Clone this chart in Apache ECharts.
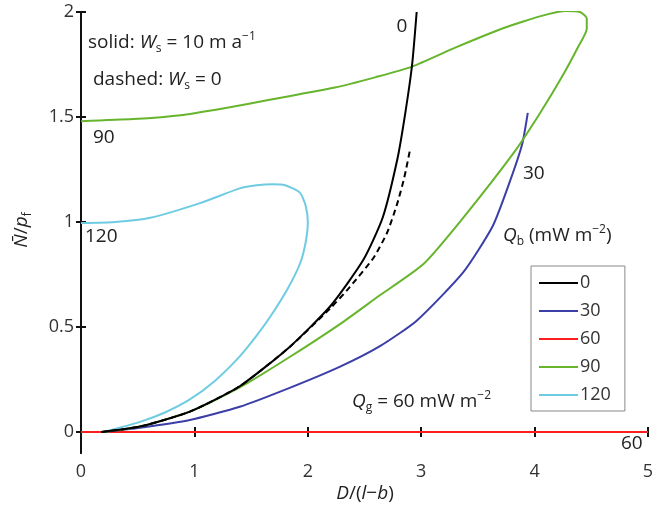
<!DOCTYPE html>
<html><head><meta charset="utf-8">
<script src="https://cdn.jsdelivr.net/npm/echarts@6/dist/echarts.min.js"></script>
<style>html,body{margin:0;padding:0;background:#fff}#c{width:670px;height:510px}</style>
</head><body><div id="c"></div>
<script>
var FONT = "'Open Sans', 'DejaVu Sans', sans-serif";
var yTicks = [0, 0.5, 1, 1.5, 2];
var legendNames = ['0', '30', '60', '90', '120'];
var colors = ['#000000', '#3b3ea6', '#ff1e1e', '#66b52c', '#6ecce2'];

var q0Solid = [[0.18,0],[0.52,0.026],[0.96,0.097],[1.40,0.218],[1.84,0.405],[2.2,0.60],[2.49,0.82],[2.66,1.02],[2.79,1.30],[2.86,1.52],[2.92,1.75],[2.96,2.0]];
var q0Dashed = [[0.18,0],[0.52,0.026],[0.96,0.097],[1.40,0.218],[1.84,0.405],[2.2,0.59],[2.37,0.69],[2.58,0.83],[2.7,0.95],[2.79,1.09],[2.85,1.21],[2.9,1.34]];
var q30 = [[0.2,0],[0.52,0.02],[0.96,0.057],[1.40,0.12],[1.84,0.21],[2.28,0.31],[2.64,0.41],[2.96,0.53],[3.37,0.76],[3.63,0.98],[3.78,1.19],[3.89,1.37],[3.94,1.52]];
var q60 = [[0,0],[5,0]];
var q90 = [[0.2,0],[0.52,0.026],[0.96,0.097],[1.40,0.212],[1.84,0.357],[2.3,0.52],[2.62,0.645],[3.02,0.80],[3.37,1.02],[3.83,1.34],[4.05,1.52],[4.24,1.69],[4.38,1.83],[4.46,1.92],[4.46,1.97],[4.4,2.0],[4.27,2.005],[4.12,1.99],[3.9,1.955],[3.71,1.92],[3.3,1.83],[2.92,1.74],[2.6,1.69],[2.24,1.64],[1.64,1.58],[1.3,1.545],[0.9,1.51],[0.46,1.49],[0,1.48]];
var q120 = [[0.2,0],[0.52,0.048],[0.74,0.093],[0.96,0.155],[1.18,0.243],[1.40,0.36],[1.55,0.46],[1.67,0.55],[1.82,0.68],[1.93,0.80],[1.98,0.90],[2.0,1.0],[1.98,1.08],[1.93,1.14],[1.8,1.175],[1.69,1.18],[1.55,1.175],[1.4,1.16],[1.05,1.09],[0.61,1.02],[0.3,1.0],[0,0.995]];

var chart = echarts.init(document.getElementById('c'), null, {renderer:'canvas'});
function ln(name, data, color, dashed) {
  return {type:'line', name:name, data:data, symbol:'none', smooth:0.2, clip:true,
    lineStyle:{color:color, width:2, type: dashed ? [6,4] : 'solid'}, itemStyle:{color:color},
    emphasis:{disabled:true}, z: dashed ? 3 : 2};
}
var axisLineS = {show:true, lineStyle:{color:'#111', width:2}};
var tickS = {show:true, inside:true, length:5, lineStyle:{color:'#111', width:2}};
var n = {fontSize:19, fontFamily:FONT, color:'#222', lineHeight:24};
var it = {fontSize:19, fontFamily:FONT, color:'#222', fontStyle:'italic', lineHeight:24};
var sub = {fontSize:12, fontFamily:FONT, color:'#222', verticalAlign:'bottom', lineHeight:12};
var sup = {fontSize:12, fontFamily:FONT, color:'#222', verticalAlign:'top', lineHeight:12};
var rich = {n:n, i:it, s:sub, p:sup};
function txt(x, y, t, align, rot) {
  return {type:'text', x:x, y:y, rotation: rot || 0, z:50,
    style:{text:t, rich:rich, font:'19px ' + FONT, fill:'#222', align: align || 'left', verticalAlign:'middle'}};
}
var option = {
  animation:false,
  backgroundColor:'#fff',
  grid:{left:81, right:22, top:12, bottom:57, containLabel:false},
  xAxis:[
    {type:'value', min:0, max:5, interval:1, position:'bottom', axisLine:axisLineS, axisTick:tickS, splitLine:{show:false},
     axisLabel:{margin:10, fontSize:18, fontFamily:FONT, color:'#333'}},
    {type:'value', min:0, max:5, interval:1, position:'top', axisLine:axisLineS, axisTick:tickS, splitLine:{show:false}, axisLabel:{show:false}}
  ],
  yAxis:[
    {type:'value', min:-0.1, max:2, position:'left', axisLine:axisLineS, axisTick:Object.assign({}, tickS, {customValues:yTicks}), splitLine:{show:false},
     axisLabel:{margin:7, fontSize:18, fontFamily:FONT, color:'#333', customValues:yTicks, formatter:function(v){return String(v);}}},
    {type:'value', min:-0.1, max:2, position:'right', axisLine:axisLineS, axisTick:Object.assign({}, tickS, {customValues:yTicks}), splitLine:{show:false}, axisLabel:{show:false}}
  ],
  legend:{show:true, data:legendNames, orient:'vertical', left:531, top:266, icon:'rect', itemWidth:39, itemHeight:2, itemGap:10, padding:[8,14,7,8],
    borderColor:'#888', borderWidth:1, backgroundColor:'#fff', selectedMode:false,
    textStyle:{fontSize:18, fontFamily:FONT, color:'#333', lineHeight:14, padding:[0,0,0,-3]}},
  series:[
    ln('60', q60, colors[2]),
    ln('30', q30, colors[1]),
    ln('120', q120, colors[4]),
    ln('90', q90, colors[3]),
    ln('0', q0Solid, colors[0]),
    ln('0 dashed', q0Dashed, colors[0], true)
  ],
  graphic:[
    txt(88, 43, '{n|solid: }{i|W}{s|s}{n| = 10 m a}{p|−1}'),
    txt(93, 80, '{n|dashed: }{i|W}{s|s}{n| = 0}'),
    txt(402, 27, '{n|0}', 'center'),
    txt(93, 138, '{n|90}'),
    txt(85, 237, '{n|120}'),
    txt(523, 174, '{n|30}'),
    txt(621, 444, '{n|60}'),
    txt(503, 236, '{i|Q}{s|b}{n| (mW m}{p|−2}{n|)}'),
    txt(352, 402, '{i|Q}{s|g}{n| = 60 mW m}{p|−2}'),
    txt(365, 494, '{i|D}{n|/(}{i|l}{n|−}{i|b}{n|)}', 'center'),
    txt(22, 230, '{i|N\u0304}{n|/}{i|p}{s|f}', 'center', Math.PI/2)
  ]
};
chart.setOption(option);
</script></body></html>
